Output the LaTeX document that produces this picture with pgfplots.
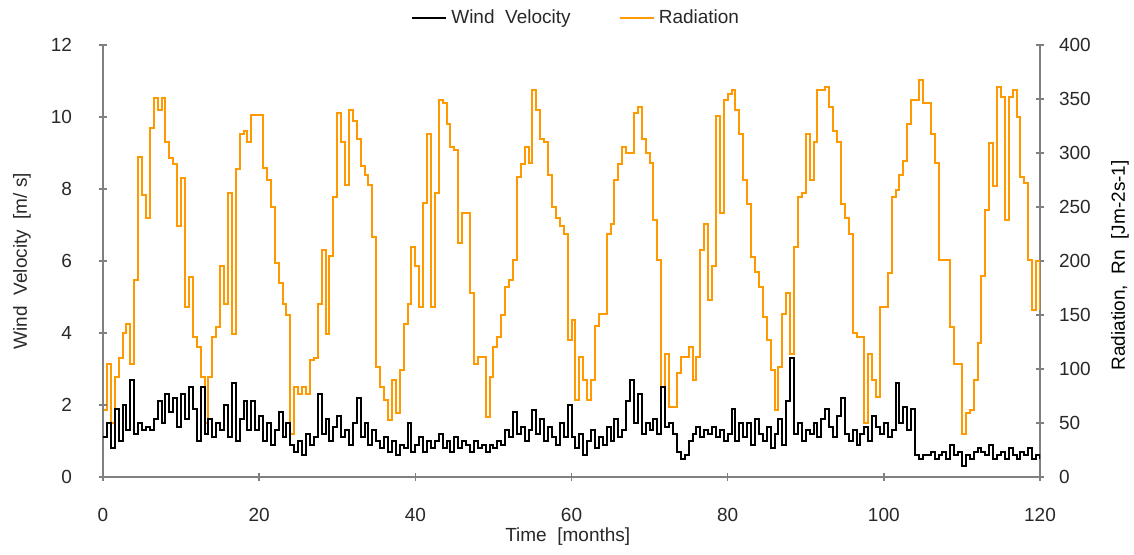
\documentclass[border=0pt]{standalone}
\usepackage{fontspec}
\setmainfont{Liberation Sans}
\usepackage{pgfplots}
\pgfplotsset{compat=1.18}
\definecolor{radorange}{RGB}{255,153,0}
\definecolor{axgray}{RGB}{128,128,128}
\definecolor{txt}{RGB}{40,40,40}
\begin{document}
\begin{tikzpicture}[font=\fontsize{9.5}{11}\selectfont]
\path[use as bounding box] (-51.5pt,-39pt) rectangle (515.5pt,238.5pt);
\pgfplotsset{
  common/.style={
    at={(0,0)}, anchor=south west, scale only axis,
    width=468.5pt, height=216pt,
    xmin=0, xmax=120,
    axis line style={axgray, line width=0.8pt},
    tick style={axgray, line width=0.8pt},
    tick align=outside, major tick length=4pt,
    /pgf/number format/assume math mode=true,
    tick label style={text=txt},
    label style={text=txt},
  },
  noarrows/.style={
    every outer x axis line/.append style={-},
    every outer y axis line/.append style={-},
    every inner x axis line/.append style={-},
    every inner y axis line/.append style={-},
  }
}
% Radiation (right axis)
\begin{axis}[common,
  axis x line=none, axis y line=right, noarrows,
  ymin=0, ymax=400, ytick={0,50,...,400},
  yticklabel style={anchor=west, xshift=4pt},
  ylabel={Radiation,\ \ Rn\ \ [Jm-2s-1]},
  ylabel style={at={(axis description cs:1.0854,0.49)}, anchor=center, rotate=0},
]
\addplot[const plot, radorange, line width=1pt] coordinates {
(0,62)(0.5,105)(1,50)(1.5,93)(2,110)(2.5,133)(3,142)(3.5,105)(4,182)(4.5,296)(5,261)(5.5,240)(6,323)(6.5,351)(7,340)(7.5,351)(8,310)(8.5,295)(9,290)(9.5,232)(10,277)(10.5,157)(11,185)(11.5,130)(12,120)(12.5,93)(13,50)(13.5,93)(14,130)(14.5,139)(15,195)(15.5,160)(16,263)(16.5,132)(17,285)(17.5,318)(18,320)(18.5,310)(19,335)(19.5,335)(20,335)(20.5,286)(21,275)(21.5,250)(22,198)(22.5,180)(23,160)(23.5,150)(24,40)(24.5,83)(25,77)(25.5,83)(26,77)(26.5,108)(27,110)(27.5,160)(28,210)(28.5,132)(29,205)(29.5,259)(30,337)(30.5,310)(31,270)(31.5,340)(32,330)(32.5,313)(33,288)(33.5,280)(34,270)(34.5,222)(35,102)(35.5,83)(36,71)(36.5,53)(37,90)(37.5,59)(38,99)(38.5,142)(39,160)(39.5,213)(40,195)(40.5,157)(41,254)(41.5,318)(42,157)(42.5,263)(43,349)(43.5,346)(44,327)(44.5,306)(45,303)(45.5,217)(46,244)(46.5,244)(47,170)(47.5,105)(48,111)(48.5,111)(49,56)(49.5,93)(50,120)(50.5,130)(51,150)(51.5,176)(52,182)(52.5,201)(53,278)(53.5,290)(54,306)(54.5,291)(55,358)(55.5,340)(56,313)(56.5,310)(57,280)(57.5,250)(58,240)(58.5,232)(59,225)(59.5,127)(60,145)(60.5,71)(61,111)(61.5,90)(62,71)(62.5,90)(63,140)(63.5,151)(64,151)(64.5,225)(65,234)(65.5,275)(66,290)(66.5,306)(67,300)(67.5,300)(68,337)(68.5,343)(69,313)(69.5,300)(70,291)(70.5,238)(71,201)(71.5,83)(72,114)(72.5,65)(73,65)(73.5,96)(74,111)(74.5,111)(75,120)(75.5,90)(76,111)(76.5,210)(77,234)(77.5,164)(78,195)(78.5,334)(79,244)(79.5,349)(80,355)(80.5,358)(81,340)(81.5,318)(82,275)(82.5,253)(83,204)(83.5,190)(84,176)(84.5,148)(85,127)(85.5,99)(86,62)(86.5,102)(87,151)(87.5,170)(88,114)(88.5,213)(89,259)(89.5,263)(90,318)(90.5,275)(91,310)(91.5,358)(92,358)(92.5,361)(93,343)(93.5,320)(94,310)(94.5,253)(95,240)(95.5,225)(96,133)(96.5,130)(97,130)(97.5,50)(98,114)(98.5,90)(99,74)(99.5,157)(100,157)(100.5,189)(101,259)(101.5,266)(102,280)(102.5,293)(103,327)(103.5,349)(104,349)(104.5,368)(105,346)(105.5,346)(106,318)(106.5,291)(107,201)(107.5,201)(108,201)(108.5,139)(109,105)(109.5,105)(110,40)(110.5,59)(111,62)(111.5,90)(112,124)(112.5,186)(113,247)(113.5,309)(114,269)(114.5,361)(115,352)(115.5,238)(116,352)(116.5,358)(117,333)(117.5,278)(118,272)(118.5,201)(119,155)(119.5,200)(120,155)
};
\end{axis}
% Wind velocity (left axis)
\begin{axis}[common,
  axis x line=bottom, axis y line=left, noarrows,
  ymin=0, ymax=12, ytick={0,2,...,12},
  xtick={0,20,...,120},
  yticklabel style={anchor=east, xshift=-10pt},
  xticklabel style={anchor=north, yshift=-10pt},
  ylabel={Wind\ \ Velocity\ \ [m/ s]},
  ylabel style={at={(axis description cs:-0.0864,0.5)}, anchor=center},
  xlabel={Time\ \ [months]},
  xlabel style={at={(axis description cs:0.496,0)}, anchor=center, yshift=-30pt},
  legend style={at={(axis description cs:0.506,1.0625)}, anchor=center, draw=none, fill=none,
    legend columns=2, /tikz/every even column/.append style={column sep=22pt},
    font=\fontsize{9.5}{11}\selectfont, text=txt},
]
\addplot[const plot, black, line width=1pt] coordinates {
(0,1.1)(0.5,1.5)(1,0.8)(1.5,1.9)(2,1.0)(2.5,2.0)(3,1.3)(3.5,2.7)(4,1.2)(4.5,1.5)(5,1.3)(5.5,1.4)(6,1.3)(6.5,1.6)(7,2.1)(7.5,1.5)(8,2.3)(8.5,1.8)(9,2.2)(9.5,1.4)(10,2.3)(10.5,1.6)(11,2.5)(11.5,1.9)(12,1.0)(12.5,2.5)(13,1.2)(13.5,1.6)(14,1.1)(14.5,1.5)(15,1.3)(15.5,2.0)(16,1.1)(16.5,2.6)(17,1.0)(17.5,1.6)(18,2.1)(18.5,1.3)(19,2.1)(19.5,1.3)(20,1.7)(20.5,1.0)(21,1.5)(21.5,0.9)(22,1.3)(22.5,1.8)(23,1.1)(23.5,1.5)(24,0.9)(24.5,0.7)(25,1.0)(25.5,0.6)(26,1.2)(26.5,0.9)(27,1.1)(27.5,2.3)(28,1.2)(28.5,1.6)(29,1.0)(29.5,1.4)(30,1.7)(30.5,1.1)(31,1.3)(31.5,0.9)(32,1.5)(32.5,2.2)(33,1.1)(33.5,1.5)(34,0.9)(34.5,1.3)(35,1.0)(35.5,0.8)(36,1.1)(36.5,0.7)(37,1.0)(37.5,0.6)(38,0.9)(38.5,0.8)(39,1.5)(39.5,0.7)(40,0.9)(40.5,1.1)(41,0.7)(41.5,1.0)(42,0.8)(42.5,1.0)(43,1.2)(43.5,0.8)(44,1.0)(44.5,0.7)(45,1.1)(45.5,0.8)(46,1.0)(46.5,0.9)(47,0.7)(47.5,1.0)(48,0.8)(48.5,0.9)(49,0.7)(49.5,0.9)(50,0.8)(50.5,1.0)(51,0.9)(51.5,1.3)(52,1.1)(52.5,1.8)(53,1.2)(53.5,1.4)(54,1.0)(54.5,1.3)(55,1.85)(55.5,1.2)(56,1.6)(56.5,1.0)(57,1.4)(57.5,1.1)(58,0.9)(58.5,1.5)(59,1.1)(59.5,2.0)(60,1.1)(60.5,0.8)(61,1.2)(61.5,0.6)(62,1.0)(62.5,1.3)(63,0.8)(63.5,1.1)(64,0.9)(64.5,1.4)(65,1.0)(65.5,1.6)(66,1.1)(66.5,1.3)(67,2.1)(67.5,2.7)(68,1.5)(68.5,2.3)(69,1.2)(69.5,1.5)(70,1.3)(70.5,1.6)(71,1.2)(71.5,2.5)(72,1.4)(72.5,1.5)(73,1.2)(73.5,0.7)(74,0.5)(74.5,0.6)(75,1.0)(75.5,1.2)(76,1.4)(76.5,1.1)(77,1.3)(77.5,1.2)(78,1.4)(78.5,1.1)(79,1.3)(79.5,1.0)(80,1.2)(80.5,1.9)(81,1.0)(81.5,1.5)(82,1.1)(82.5,1.5)(83,0.9)(83.5,1.6)(84,1.2)(84.5,1.0)(85,1.4)(85.5,0.8)(86,1.2)(86.5,1.6)(87,0.9)(87.5,2.1)(88,3.3)(88.5,1.2)(89,1.5)(89.5,1.0)(90,1.3)(90.5,1.2)(91,1.5)(91.5,1.1)(92,1.6)(92.5,1.9)(93,1.4)(93.5,1.1)(94,1.7)(94.5,2.2)(95,1.2)(95.5,1.0)(96,1.3)(96.5,0.9)(97,1.2)(97.5,1.4)(98,1.0)(98.5,1.7)(99,1.4)(99.5,1.2)(100,1.5)(100.5,1.1)(101,1.3)(101.5,2.6)(102,1.5)(102.5,1.95)(103,1.3)(103.5,1.9)(104,0.6)(104.5,0.5)(105,0.6)(105.5,0.6)(106,0.7)(106.5,0.5)(107,0.6)(107.5,0.7)(108,0.5)(108.5,0.9)(109,0.6)(109.5,0.7)(110,0.3)(110.5,0.6)(111,0.5)(111.5,0.7)(112,0.8)(112.5,0.7)(113,0.6)(113.5,0.9)(114,0.5)(114.5,0.6)(115,0.7)(115.5,0.5)(116,0.8)(116.5,0.6)(117,0.5)(117.5,0.7)(118,0.6)(118.5,0.8)(119,0.5)(119.5,0.6)(120,0.5)
};
\addlegendentry{Wind\ \ Velocity}
\addlegendimage{const plot, radorange, line width=1pt}
\addlegendentry{Radiation}
\end{axis}
\end{tikzpicture}
\end{document}
